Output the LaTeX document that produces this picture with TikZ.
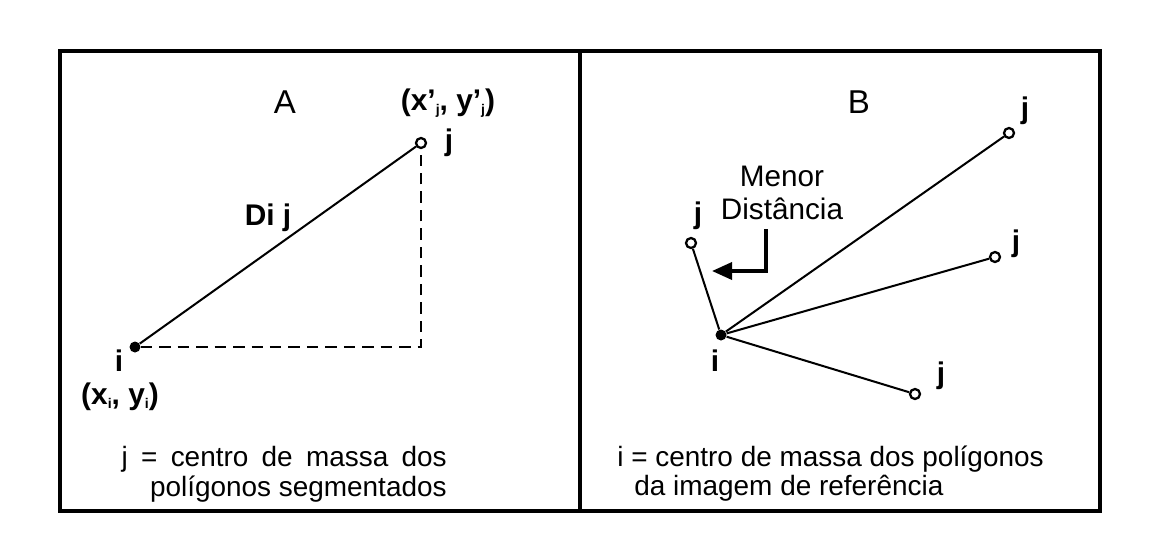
\documentclass[tikz,border=0pt]{standalone}
\usepackage{fontspec}
\setmainfont{Liberation Sans}
\usetikzlibrary{arrows.meta}
\newcommand{\lowsub}[1]{\raisebox{-0.25ex}{\fontsize{8}{9}\selectfont #1}}

\begin{document}
\begin{tikzpicture}[x=0.02cm,y=-0.02cm,
        seg/.style={line width=1.15pt},
        opendot/.style={circle,draw,line width=1.3pt,inner sep=0pt,minimum size=0.2cm},
        fulldot/.style={circle,fill=black,inner sep=0pt,minimum size=0.22cm},
        lbl/.style={font=\fontsize{17}{20}\selectfont\bfseries,inner sep=0pt},
        title/.style={font=\fontsize{18.8}{22}\selectfont,inner sep=0pt},
        txt/.style={font=\fontsize{15.9}{17}\selectfont,inner sep=0pt}]
            \useasboundingbox (0,0) rectangle (1153,559);
            % frames
            \draw[line width=2pt] (60,51) rectangle (1100,511);
            \draw[line width=2pt] (580,51)--(580,511);
            % A
            \node[title] (titA) at (285,102) {A};
            \node[fulldot] (iA) at (135,347) {};
            \node[opendot] (jA) at (421,143) {};
            \coordinate (cA) at (jA |- iA);
            \draw[seg] (iA)--(jA);
            \draw[seg,dash pattern=on 6.5pt off 4pt] (iA)--(cA)--(jA);
            \node[lbl] (ljA) at (449,143) {j};
            \node[lbl] (cjA) at (448,103) {(x’\lowsub{j}, y’\lowsub{j})};
            \node[lbl] (dij) at (268,218) {Di j};
            \node[lbl] (liA) at (119,361) {i};
            \node[lbl] (ciA) at (120,397) {(x\lowsub{i}, y\lowsub{i})};
            \node[txt,anchor=east,align=right] (legA) at (447,474) {\makebox[6.5cm][s]{j = centro de massa dos}\\polígonos segmentados};
            % B
            \node[title] (titB) at (859,102) {B};
            \node[fulldot] (iB) at (721,335) {};
            \node[lbl] (liB) at (715,361) {i};
            \foreach \n/\px/\py/\lx/\ly in {1/1009/133/1025/111, 2/691/243/698/216, 3/995/257/1016/244, 4/915/394/941/376}{
                \node[opendot] (jB\n) at (\px,\py) {};
                \node[lbl] (ljB\n) at (\lx,\ly) {j};
                \draw[seg] (iB)--(jB\n);
            }
            \node[font=\fontsize{16.9}{18.8}\selectfont,align=center,inner sep=0pt] (menor) at (782,193) {Menor\\Distância};
            \coordinate (arrTop) at (766,229);
            \coordinate (arrTip) at (712,271);
            \draw[line width=2pt,-{Triangle[length=0.4cm,width=0.34cm]}] (arrTop) |- (arrTip);
            \node[txt,anchor=west] (legB1) at (617,459) {i = centro de massa dos polígonos};
            \node[txt,anchor=west] (legB2) at (634,488) {da imagem de referência};
        \end{tikzpicture}
\end{document}
